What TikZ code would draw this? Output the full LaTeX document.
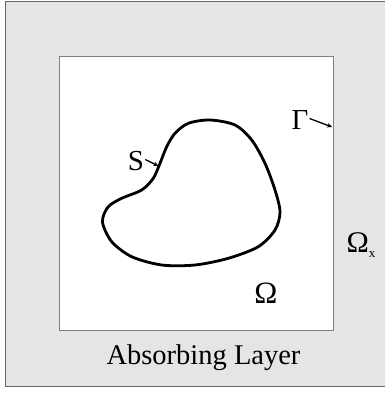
\documentclass[tikz,border=0pt]{standalone}
\usepackage{fontspec}
\setmainfont{Liberation Serif}
\usetikzlibrary{arrows.meta}
\begin{document}
\begin{tikzpicture}[x=1pt,y=-1pt,
  layerbox/.style={fill=black!10,draw=black!60,line width=0.8pt},
  innerbox/.style={fill=white,draw=black!50,line width=0.8pt},
  bound/.style={line width=2.8pt,line join=round},
  pointer/.style={line width=1.3pt,-{Stealth[length=5pt,width=4.5pt]}},
  lbl/.style={inner sep=0pt,font=\fontsize{29}{31}\selectfont}]
\useasboundingbox (0,0) rectangle (384,393);
\draw[layerbox] (5,1) rectangle (386,386);
\draw[innerbox] (59.5,56.7) rectangle (333.3,330.3);
\draw[bound] plot[smooth cycle,tension=0.5] coordinates {
 (210,120) (235,125) (251.7,140) (265,163.3) (275,190) (280,212) (275,230)
 (258.3,246.7) (228.3,258.3) (195,265) (161.7,265) (131.7,256.7) (111.7,241.7)
 (102.5,222) (108,207) (121.7,198.3) (141.7,190) (153.3,178.3)
 (160,163.3) (166.7,146.7) (175,133.3) (188.3,123.3)};
\coordinate (sp) at (158.5,166);
\coordinate (gp) at (332,127);
\node[lbl] (S) at (136,161.5) {S};
\node[lbl] (G) at (300,120.5) {Γ};
\draw[pointer] (S.east) ++(1,-2) -- (sp);
\draw[pointer] (G.east) ++(1,-2) -- (gp);
\node[lbl,font=\fontsize{31}{33}\selectfont] (Om) at (266,293) {Ω};
\node[lbl,font=\fontsize{30}{32}\selectfont] (Ox) at (361,245) {Ω\raisebox{-0.4ex}{\fontsize{13}{14}\selectfont x}};
\node[lbl,font=\fontsize{28.5}{31}\selectfont] (AL) at (203.5,358) {Absorbing Layer};
\end{tikzpicture}
\end{document}
